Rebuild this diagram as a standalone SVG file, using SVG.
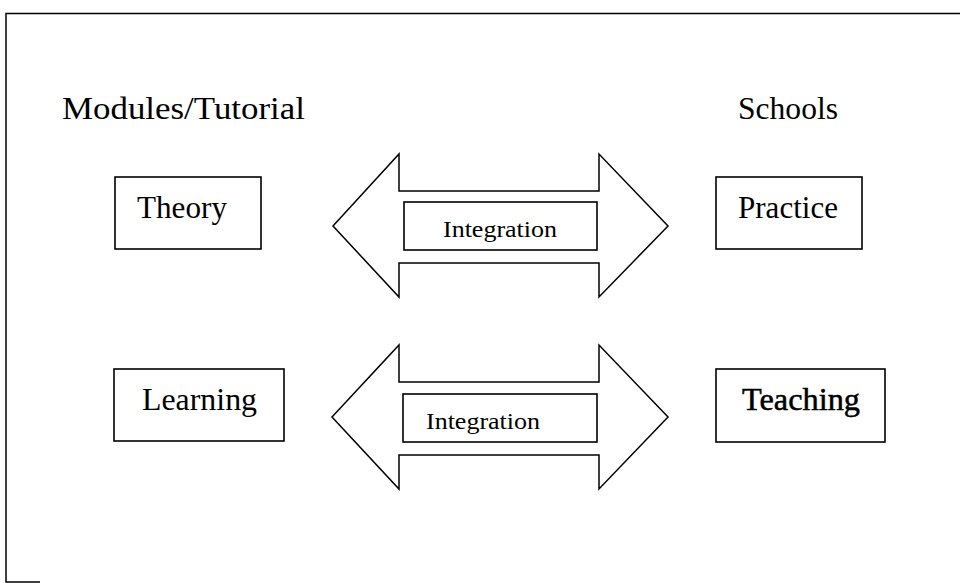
<svg xmlns="http://www.w3.org/2000/svg" width="960" height="583" viewBox="0 0 960 583">
<style>
.box{fill:#fff;stroke:#000;stroke-width:1.6}
.arrow{fill:#fff;stroke:#000;stroke-width:1.5;stroke-linejoin:miter}
.frame{fill:none;stroke:#000;stroke-width:1.5}
.t{font-family:"Liberation Serif","Times New Roman",serif;font-size:31px;fill:#000}
.ti{font-family:"Liberation Serif","Times New Roman",serif;font-size:24px;fill:#000}
</style>
<rect width="960" height="583" fill="#fff"/>
<g id="frame">
<polyline class="frame" points="960,13.5 6,13.5 6,582 40,582"/>
</g>
<g id="headings">
<text id="modules-label" class="t" x="62" y="119" textLength="243" lengthAdjust="spacingAndGlyphs">Modules/Tutorial</text>
<text id="schools-label" class="t" x="738" y="119" textLength="100" lengthAdjust="spacingAndGlyphs">Schools</text>
</g>
<g id="theory">
<rect class="box" x="115" y="177" width="146" height="72"/>
<text class="t" x="137" y="218" textLength="90" lengthAdjust="spacingAndGlyphs">Theory</text>
</g>
<g id="practice">
<rect class="box" x="716" y="177" width="146" height="72"/>
<text class="t" x="738" y="218" textLength="100" lengthAdjust="spacingAndGlyphs">Practice</text>
</g>
<g id="learning">
<rect class="box" x="114" y="369" width="170" height="72"/>
<text class="t" x="142" y="410" textLength="115" lengthAdjust="spacingAndGlyphs">Learning</text>
</g>
<g id="teaching">
<rect class="box" x="716" y="369" width="169" height="73"/>
<text class="t" x="742" y="410" textLength="118" lengthAdjust="spacingAndGlyphs" stroke="#000" stroke-width="0.5">Teaching</text>
</g>
<g id="connectors">
<g id="integration-1">
<polygon class="arrow" points="333,226 399,154 399,191 599,191 599,154 668,226 599,297 599,263 399,263 399,297"/>
<rect class="box" x="404" y="202" width="193" height="48"/>
<text class="ti" x="443" y="237" textLength="114" lengthAdjust="spacingAndGlyphs">Integration</text>
</g>
<g id="integration-2">
<polygon class="arrow" points="332,417 399,345 399,382 599,382 599,345 668,417 599,489 599,455 399,455 399,489"/>
<rect class="box" x="403" y="394" width="194" height="48"/>
<text class="ti" x="426" y="429" textLength="114" lengthAdjust="spacingAndGlyphs">Integration</text>
</g>
</g>
</svg>
